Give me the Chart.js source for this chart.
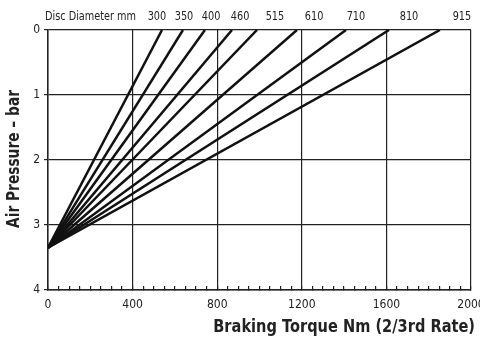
<!DOCTYPE html>
<html><head><meta charset="utf-8">
<script src="https://cdn.jsdelivr.net/npm/chart.js@4/dist/chart.umd.min.js"></script>
<style>html,body{margin:0;padding:0;background:#fff}#wrap{width:480px;height:341px}</style>
</head><body><div id="wrap"><canvas id="c" width="480" height="341"></canvas></div>
<script>
// Data
const discDiameters = ['300','350','400','460','515','610','710','810','915'];
const apexPressure = 3.35;                 // bar, where all lines meet at 0 Nm
const topTorque = [539, 638, 742, 870, 988, 1177, 1409, 1612, 1853]; // Nm at 0 bar
const labelTorque = [515, 643, 771, 908, 1073, 1258, 1456, 1707, 1957]; // label anchors (Nm)
const xMajorStep = 400;
const xMinorStep = 50;
const yStep = 1;
const xTitle = 'Braking Torque Nm (2/3rd Rate)';
const yTitle = 'Air Pressure – bar';
const topTitle = 'Disc Diameter mm';

const FF = "'DejaVu Sans', sans-serif";
const INK = '#222';

const datasets = discDiameters.map((d, i) => ({
  label: d + ' mm',
  data: [{x: 0, y: apexPressure}, {x: topTorque[i], y: 0}],
  showLine: true,
  borderColor: '#111',
  borderWidth: 2.5,
  pointRadius: 0,
  fill: false
}));

function squeezedText(ctx, text, x, y, sx, rot) {
  ctx.save();
  ctx.translate(x, y);
  if (rot) ctx.rotate(rot);
  ctx.scale(sx, 1);
  ctx.fillText(text, 0, 0);
  ctx.restore();
}

const textPlugin = {
  id: 'textPlugin',
  afterDraw(chart) {
    const {ctx, scales: {x}, chartArea} = chart;
    ctx.save();
    ctx.fillStyle = INK;
    // top labels
    ctx.font = 'condensed 12px ' + FF;
    ctx.textBaseline = 'middle';
    ctx.textAlign = 'left';
    squeezedText(ctx, topTitle, chartArea.left - 3, 17, 0.9);
    ctx.textAlign = 'center';
    discDiameters.forEach((d, i) => {
      squeezedText(ctx, d, x.getPixelForValue(labelTorque[i]), 17, 0.9);
    });
    // axis titles
    ctx.font = 'bold 18px ' + FF;
    ctx.textAlign = 'right';
    squeezedText(ctx, xTitle, chartArea.right + 4, 327, 0.81);
    ctx.font = 'bold 17px ' + FF;
    ctx.textAlign = 'center';
    squeezedText(ctx, yTitle, 14.5, (chartArea.top + chartArea.bottom) / 2 - 1, 0.81, -Math.PI / 2);
    ctx.restore();
  }
};

new Chart(document.getElementById('c'), {
  type: 'scatter',
  data: {datasets},
  plugins: [textPlugin],
  options: {
    responsive: false,
    animation: false,
    devicePixelRatio: 1,
    layout: {padding: {top: 30, right: 9, bottom: 0, left: 0}},
    plugins: {legend: {display: false}, tooltip: {enabled: false}},
    scales: {
      x: {
        type: 'linear', min: 0, max: 2000,
        afterFit(s) { s.height = 51; s.paddingLeft = 0; s.paddingRight = 0; },
        ticks: {
          stepSize: xMinorStep, autoSkip: false, maxRotation: 0,
          padding: 12, color: INK, font: {family: FF, size: 12, weight: 'condensed'},
          callback: v => (v % xMajorStep === 0 ? String(v) : '')
        },
        grid: {
          color: c => (c.tick && c.tick.value % xMajorStep === 0 ? INK : 'rgba(0,0,0,0)'),
          tickColor: INK,
          lineWidth: 1.2,
          tickLength: -4,
          drawTicks: true
        },
        border: {display: true, color: INK, width: 1.5},
        title: {display: false}
      },
      y: {
        type: 'linear', min: 0, max: 4, reverse: true,
        afterFit(s) { s.width = 48; s.paddingTop = 0; s.paddingBottom = 0; },
        ticks: {stepSize: yStep, padding: 4, color: INK, font: {family: FF, size: 12, weight: 'condensed'}},
        grid: {color: INK, lineWidth: 1.2, tickLength: 4, tickColor: INK},
        border: {display: true, color: INK, width: 1.5},
        title: {display: false}
      }
    }
  }
});
</script>
</body></html>
